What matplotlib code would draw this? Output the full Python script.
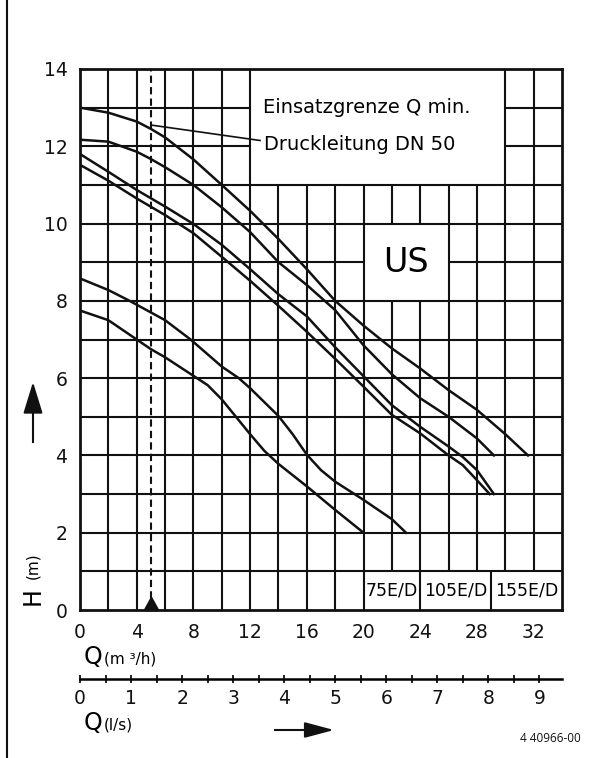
import matplotlib
matplotlib.use('Agg')
import matplotlib.pyplot as plt
import numpy as np
from matplotlib.lines import Line2D
from matplotlib.path import Path
from matplotlib.ticker import MultipleLocator

# pump curves: Q in m3/h, H in m
q_155_a = [0, 2, 4, 5, 6, 8, 10, 12, 14, 16, 18, 20, 22, 24, 26, 28, 30, 31.6]
h_155_a = [13.0, 12.87, 12.64, 12.45, 12.23, 11.66, 11.0, 10.33, 9.6, 8.82, 8.0, 7.36, 6.77, 6.25, 5.69, 5.18, 4.55, 4.0]
q_155_b = [0, 2, 4, 5, 6, 8, 10, 12, 14, 16, 18, 20, 22, 24, 26, 28, 29.2]
h_155_b = [12.17, 12.12, 11.86, 11.67, 11.46, 11.0, 10.42, 9.78, 9.0, 8.41, 7.76, 6.85, 6.1, 5.48, 5.0, 4.44, 4.0]
q_105_a = [0, 2, 4, 6, 8, 10, 12, 14, 16, 18, 20, 22, 24, 26, 27, 28, 29.2]
h_105_a = [11.8, 11.34, 10.87, 10.44, 9.99, 9.45, 8.82, 8.17, 7.6, 6.8, 6.05, 5.3, 4.74, 4.23, 3.96, 3.62, 3.0]
q_105_b = [0, 2, 4, 6, 8, 10, 12, 14, 16, 18, 20, 22, 24, 26, 27, 28, 28.9]
h_105_b = [11.52, 11.11, 10.65, 10.22, 9.75, 9.14, 8.52, 7.87, 7.2, 6.5, 5.78, 5.05, 4.57, 4.0, 3.75, 3.36, 3.0]
q_75_a = [0, 2, 3.5, 5, 6, 7.8, 10, 11.2, 12, 14, 15, 16, 17, 18, 20, 22, 23.0]
h_75_a = [8.58, 8.28, 8.0, 7.7, 7.5, 7.0, 6.3, 6.0, 5.74, 5.02, 4.55, 4.02, 3.62, 3.32, 2.85, 2.35, 2.0]
q_75_b = [0, 2, 4, 5, 6, 8, 9, 10, 11, 12, 13, 14, 16, 18, 20]
h_75_b = [7.75, 7.5, 7.0, 6.75, 6.54, 6.06, 5.82, 5.45, 5.0, 4.55, 4.12, 3.78, 3.2, 2.59, 2.0]

curves = [(q_155_a, h_155_a), (q_155_b, h_155_b), (q_105_a, h_105_a),
          (q_105_b, h_105_b), (q_75_a, h_75_a), (q_75_b, h_75_b)]

q_ticks = np.arange(0, 33, 4)
h_ticks = np.arange(0, 15, 2)
ls_ticks = np.arange(0, 10, 1)
model_labels = ['75E/D', '105E/D', '155E/D']
model_bounds = [20, 24, 29, 34]
q_min = 5.0  # Einsatzgrenze Q min.

W, H = 606, 758
INK = '#111111'
FONT = dict(family='DejaVu Sans')

fig = plt.figure(figsize=(W / 100, H / 100), dpi=100)
ax = fig.add_axes([80 / W, 1 - 610 / H, 482 / W, 541 / H])
ax.set_xlim(0, 34)
ax.set_ylim(0, 14)

# blank areas of the grid: (q0, q1, h0, h1)
boxes = [(12, 30, 11, 14), (20, 26, 8, 10), (20, 34, 0, 1)]


def cut(span, holes):
    parts = [span]
    for a, b in holes:
        new = []
        for p0, p1 in parts:
            if b <= p0 or a >= p1:
                new.append((p0, p1))
                continue
            if a > p0:
                new.append((p0, a))
            if b < p1:
                new.append((b, p1))
        parts = new
    return parts


grid_kw = dict(color=INK, lw=1.5, zorder=1, solid_capstyle='butt')
for h in range(1, 14):
    holes = [(b[0], b[1]) for b in boxes if b[2] < h < b[3]]
    for x0, x1 in cut((0, 34), holes):
        ax.plot([x0, x1], [h, h], **grid_kw)
for q in range(2, 34, 2):
    holes = [(b[2], b[3]) for b in boxes if b[0] < q < b[1]]
    for y0, y1 in cut((0, 14), holes):
        ax.plot([q, q], [y0, y1], **grid_kw)
for q in model_bounds[1:-1]:
    ax.plot([q, q], [0, 1], **grid_kw)

for q, h in curves:
    ax.plot(q, h, color=INK, lw=1.8, zorder=3, solid_joinstyle='round')

# Q min marker
ax.plot([q_min, q_min], [0, 14], color=INK, lw=1.5, ls=(0, (3.5, 2)), zorder=2)
tri = Path([(-0.55, 0), (0.55, 0), (0, 1), (-0.55, 0)],
           [Path.MOVETO, Path.LINETO, Path.LINETO, Path.CLOSEPOLY])
ax.plot([q_min], [0], marker=tri, ms=19, color=INK, clip_on=False, zorder=4)
ax.plot([q_min, 12.7], [12.55, 12.15], color=INK, lw=1.2, zorder=2)

ax.text(12.9, 13.0, 'Einsatzgrenze Q min.', fontsize=14, ha='left', va='center', **FONT)
ax.text(13.0, 12.05, 'Druckleitung DN 50', fontsize=14, ha='left', va='center', **FONT)
ax.text(23, 9, 'US', fontsize=24, ha='center', va='center', **FONT)
for i, lab in enumerate(model_labels):
    ax.text((model_bounds[i] + model_bounds[i + 1]) / 2, 0.5, lab, fontsize=12.5,
            ha='center', va='center', **FONT)

for s in ax.spines.values():
    s.set_linewidth(2)
    s.set_color(INK)
ax.set_xticks(q_ticks)
ax.set_yticks(h_ticks)
ax.tick_params(length=0, labelsize=13.5, colors=INK)
ax.tick_params(axis='x', pad=9)
ax.tick_params(axis='y', pad=9)
for lab in ax.get_xticklabels() + ax.get_yticklabels():
    lab.set_family(FONT['family'])

# second flow scale in l/s
sec = ax.secondary_xaxis(-0.1275, functions=(lambda q: q / 3.6, lambda l: l * 3.6))
sec.set_xticks(ls_ticks)
sec.xaxis.set_minor_locator(MultipleLocator(0.5))
sec.spines['bottom'].set_linewidth(1.8)
sec.tick_params(which='both', direction='inout', length=6, width=1.3, labelsize=13.5, pad=4, colors=INK)
for lab in sec.get_xticklabels():
    lab.set_family(FONT['family'])

# axis names
fig.text(84 / W, 1 - 657 / H, 'Q', fontsize=17, va='center', ha='left', **FONT)
fig.text(104 / W, 1 - 659 / H, '(m ³/h)', fontsize=11, va='center', ha='left', **FONT)
fig.text(84 / W, 1 - 723 / H, 'Q', fontsize=17, va='center', ha='left', **FONT)
fig.text(104 / W, 1 - 725 / H, '(l/s)', fontsize=11, va='center', ha='left', **FONT)
fig.text(33 / W, 1 - 596 / H, 'H', fontsize=17, rotation=90, va='center', ha='center', **FONT)
fig.text(33 / W, 1 - 566 / H, '(m)', fontsize=11, rotation=90, va='center', ha='center', **FONT)

fig.add_artist(Line2D([33 / W, 33 / W], [1 - 442 / H, 1 - 400 / H], color=INK, lw=1.5))
ax.annotate('', xy=(33 / W, 1 - 382 / H), xytext=(33 / W, 1 - 410 / H), xycoords='figure fraction',
            arrowprops=dict(arrowstyle='-|>,head_length=1.3,head_width=0.4', mutation_scale=15,
                            color=INK, lw=1.5, shrinkA=0, shrinkB=0))
fig.add_artist(Line2D([275 / W, 310 / W], [1 - 730 / H, 1 - 730 / H], color=INK, lw=1.5))
ax.annotate('', xy=(334 / W, 1 - 730 / H), xytext=(305 / W, 1 - 730 / H), xycoords='figure fraction',
            arrowprops=dict(arrowstyle='-|>,head_length=1.2,head_width=0.32', mutation_scale=15,
                            color=INK, lw=1.5, shrinkA=0, shrinkB=0))

fig.text(550 / W, 1 - 739 / H, '4 40966-00', fontsize=8.5, family='Open Sans', ha='center', va='center', color=INK)

# sheet frame
fig.add_artist(Line2D([7 / W, 7 / W], [0, 1], color=INK, lw=1.5))

fig.savefig('out.png', dpi=100)
